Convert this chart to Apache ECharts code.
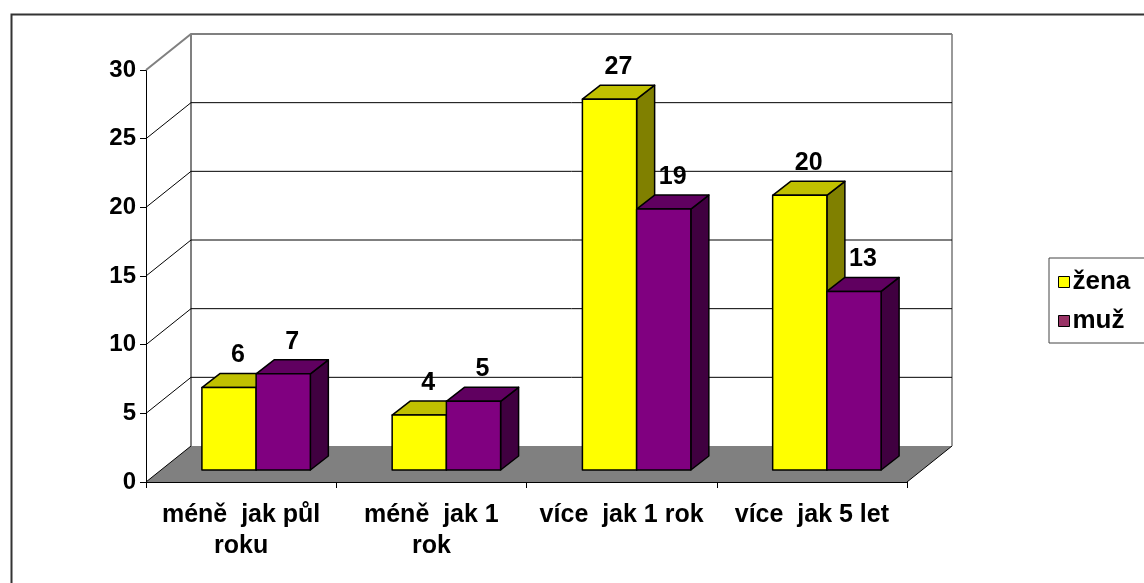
<!DOCTYPE html>
<html>
<head>
<meta charset="utf-8">
<script src="https://cdn.jsdelivr.net/npm/echarts@6/dist/echarts.min.js"></script>
<style>
  html, body { margin: 0; padding: 0; background: #fff; }
  #chart { width: 1144px; height: 583px; }
</style>
</head>
<body>
<div id="chart"></div>
<script>
// data
const categories = ['méně  jak půl\nroku', 'méně  jak 1\nrok', 'více  jak 1 rok', 'více  jak 5 let'];
const zena = [6, 4, 27, 20];
const muz = [7, 5, 19, 13];
const yTicks = [0, 5, 10, 15, 20, 25, 30];

// fake 3d look (pixels)
const DX = 45, DY = -36;          // depth of the back wall
const BAR_DX = 18, BAR_DY = -14;  // depth of a bar
const BAR_SHIFT = 1 / 3;          // bars stand a third into the floor
const FONT = 'Liberation Sans';

const chart = echarts.init(document.getElementById('chart'));

function renderFrame(params, api) {
  const catW = api.size([1, 0])[0];
  const x0 = api.coord([0, 0])[0] - catW / 2;
  const x1 = api.coord([categories.length - 1, 0])[0] + catW / 2;
  const y0 = api.coord([0, 0])[1];
  const yMax = api.coord([0, yTicks[yTicks.length - 1]])[1];
  const kids = [];

  kids.push({
    type: 'polygon',
    shape: { points: [[x0, y0], [x0 + DX, y0 + DY], [x1 + DX, y0 + DY], [x1, y0]] },
    style: { fill: '#808080', stroke: null }
  });
  kids.push({ type: 'line', shape: { x1: x0, y1: y0, x2: x0 + DX, y2: y0 + DY }, style: { stroke: '#000', lineWidth: 1 } });
  kids.push({ type: 'line', shape: { x1: x1, y1: y0, x2: x1 + DX, y2: y0 + DY }, style: { stroke: '#000', lineWidth: 1 } });

  // back wall edges
  kids.push({ type: 'line', shape: { x1: x0 + DX, y1: yMax + DY, x2: x0 + DX, y2: y0 + DY }, style: { stroke: '#808080', lineWidth: 2 } });
  kids.push({ type: 'line', shape: { x1: x1 + DX, y1: yMax + DY, x2: x1 + DX, y2: y0 + DY }, style: { stroke: '#999', lineWidth: 2 } });

  yTicks.forEach(function (t) {
    if (t === 0) return;
    const y = api.coord([0, t])[1];
    const top = t === yTicks[yTicks.length - 1];
    kids.push({
      type: 'polyline',
      shape: { points: [[x0, y], [x0 + DX, y + DY], [x1 + DX, y + DY]] },
      style: { stroke: top ? '#808080' : '#000', lineWidth: top ? 2 : 1, fill: null }
    });
  });
  return { type: 'group', children: kids };
}

function makeBox(front, top, side, right) {
  return function (params, api) {
    const i = api.value(0);
    const v = api.value(1);
    const catW = api.size([1, 0])[0];
    const w = catW * 0.285;
    const cx = api.coord([i, 0])[0] + DX * BAR_SHIFT;
    const yb = api.coord([i, 0])[1] + DY * BAR_SHIFT;
    const yt = api.coord([i, v])[1] + DY * BAR_SHIFT;
    const xl = right ? cx : cx - w;
    const xr = xl + w;
    const st = { stroke: '#000', lineWidth: 1.5, lineJoin: 'round' };
    return {
      type: 'group',
      children: [
        { type: 'polygon', shape: { points: [[xr, yb], [xr + BAR_DX, yb + BAR_DY], [xr + BAR_DX, yt + BAR_DY], [xr, yt]] },
          style: Object.assign({ fill: side }, st) },
        { type: 'polygon', shape: { points: [[xl, yt], [xl + BAR_DX, yt + BAR_DY], [xr + BAR_DX, yt + BAR_DY], [xr, yt]] },
          style: Object.assign({ fill: top }, st) },
        { type: 'rect', shape: { x: xl, y: yt, width: w, height: yb - yt },
          style: Object.assign({ fill: front }, st) },
        { type: 'text', x: (xl + xr) / 2 + BAR_DX / 2, y: yt + BAR_DY - 18,
          style: { text: String(v), fill: '#000', font: 'bold 25px "' + FONT + '"', align: 'center', verticalAlign: 'middle' } }
      ]
    };
  };
}

const option = {
  animation: false,
  backgroundColor: '#fff',
  graphic: [{
    type: 'rect', left: 9, top: 12, silent: true,
    shape: { width: 1200, height: 620 },
    style: { fill: null, stroke: '#333', lineWidth: 2 }
  }],
  grid: { left: 146, right: 237, top: 70, bottom: 101 },
  legend: {
    left: 1049, top: 258,
    orient: 'vertical',
    padding: [11, 40, 9, 9],
    itemGap: 13,
    itemWidth: 11, itemHeight: 11,
    icon: 'rect',
    backgroundColor: '#fff',
    borderColor: '#444', borderWidth: 1,
    textStyle: { fontFamily: FONT, fontWeight: 'bold', fontSize: 26, color: '#000', lineHeight: 22, padding: [0, 0, 0, -2] },
    data: [
      { name: 'žena', itemStyle: { color: '#ffff00', borderColor: '#000', borderWidth: 1 } },
      { name: 'muž', itemStyle: { color: '#993366', borderColor: '#000', borderWidth: 1 } }
    ]
  },
  xAxis: {
    type: 'category',
    data: categories,
    axisLine: { lineStyle: { color: '#000', width: 1 } },
    axisTick: { show: true, length: 6, lineStyle: { color: '#000' } },
    axisLabel: { interval: 0, margin: 18, color: '#000', fontFamily: FONT, fontWeight: 'bold', fontSize: 25, lineHeight: 31 },
    splitLine: { show: false }
  },
  yAxis: {
    type: 'value',
    min: 0, max: 30, interval: 5,
    axisLine: { show: true, lineStyle: { color: '#000', width: 1 } },
    axisTick: { show: true, length: 6, lineStyle: { color: '#000' } },
    axisLabel: { margin: 10, color: '#000', fontFamily: FONT, fontWeight: 'bold', fontSize: 24 },
    splitLine: { show: false }
  },
  series: [
    { type: 'custom', name: 'frame', z: 1, silent: true, renderItem: renderFrame,
      data: [[0, 0]], encode: { x: 0, y: 1 } },
    { type: 'custom', name: 'žena', z: 3, itemStyle: { color: '#ffff00' },
      renderItem: makeBox('#ffff00', '#c0c000', '#808000', false),
      data: zena.map(function (v, i) { return [i, v]; }), encode: { x: 0, y: 1 } },
    { type: 'custom', name: 'muž', z: 4, itemStyle: { color: '#993366' },
      renderItem: makeBox('#800080', '#600060', '#400040', true),
      data: muz.map(function (v, i) { return [i, v]; }), encode: { x: 0, y: 1 } }
  ]
};

chart.setOption(option);
</script>
</body>
</html>
